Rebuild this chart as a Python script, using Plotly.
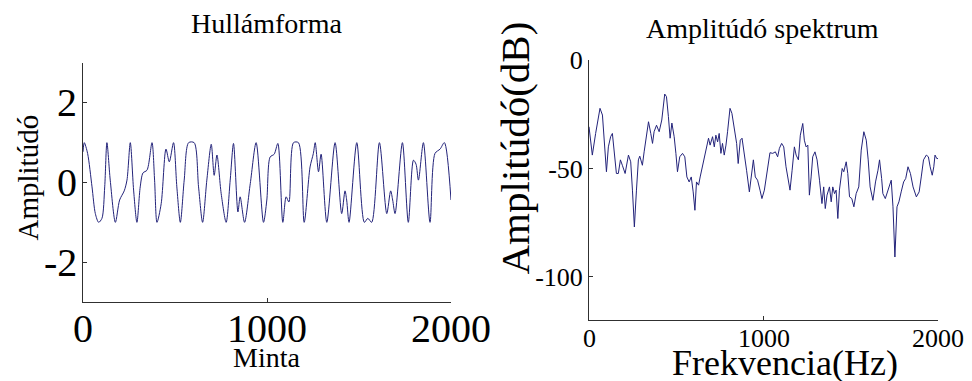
import plotly.graph_objects as go

# ---- data ----
wave_x = [0, 7, 25, 49, 67, 85, 103, 118, 130, 148, 176, 199, 224, 239, 257, 275, 293, 311, 326, 348,
          375, 389, 402, 425, 451, 469, 492, 510, 529, 550, 574, 604, 628, 650, 673, 697, 713, 728, 751, 778,
          800, 818, 842, 854, 878, 909, 941, 981, 999, 1017, 1039, 1059, 1086, 1104, 1119, 1144, 1171, 1202,
          1234, 1252, 1262, 1280, 1294, 1325, 1370, 1406, 1424, 1433, 1446, 1488, 1529, 1548, 1569, 1611,
          1651, 1672, 1683, 1696, 1736, 1768, 1796, 1810, 1823, 1850, 1886, 1913, 1941, 1964, 2000]
wave_y = [0.77, 1.0, 0.73, -0.11, -0.78, -1.0, -0.9, -0.11, 1.0, 0.06, -1.0, -0.44, -0.21, 0.06, 1.0, -0.19,
          -1.0, -0.11, 0.24, 0.31, 1.0, 0.06, -1.0, -0.53, 0.84, 0.52, 1.0, -0.11, -1.0, 0.06, 1.0, 1.0, -0.11,
          -1.0, 0.06, 0.96, 0.18, 0.69, -0.28, -1.0, 0.06, 0.98, -0.74, -0.36, -1.0, -0.03, 1.0, -1.0, -0.44,
          0.64, 0.71, 0.98, -1.0, -0.36, -0.49, 1.0, 1.0, -1.0, 0.39, 0.73, 1.0, 0.27, 0.71, -1.0, 1.0, -0.78,
          -0.21, -0.44, -1.0, 1.0, -1.0, -0.9, -1.0, 1.0, -0.78, -0.21, -0.44, -0.78, 1.0, -1.0, 0.56, 0.46,
          0.06, 1.0, -1.0, 0.73, 0.84, 1.0, -0.44]

spec_x = [0, 19, 38, 63, 77, 92, 100, 111, 124, 134, 145, 157, 168, 180, 191, 207, 226, 239, 249, 260,
          272, 283, 291, 306, 316, 329, 341, 354, 364, 373, 387, 402, 417, 434, 444, 455, 465, 475, 488, 498,
          507, 520, 536, 549, 561, 574, 586, 597, 607, 616, 628, 637, 660, 685, 694, 708, 718, 727, 737, 746,
          756, 765, 775, 785, 794, 808, 819, 833, 846, 855, 867, 877, 890, 903, 919, 932, 942, 953, 966, 980,
          991, 1005, 1024, 1037, 1053, 1068, 1081, 1091, 1104, 1116, 1129, 1141, 1152, 1164, 1177, 1187, 1200,
          1211, 1225, 1234, 1244, 1254, 1263, 1273, 1282, 1295, 1307, 1321, 1335, 1345, 1354, 1364, 1378, 1388,
          1397, 1407, 1416, 1426, 1435, 1451, 1460, 1474, 1483, 1493, 1506, 1518, 1531, 1546, 1560, 1575, 1589,
          1600, 1611, 1627, 1642, 1656, 1665, 1677, 1684, 1698, 1713, 1722, 1732, 1742, 1753, 1765, 1776, 1789,
          1803, 1815, 1828, 1842, 1857, 1876, 1892, 1904, 1917, 1933, 1945, 1955, 1967, 1976, 1983, 1993, 2000]
spec_y = [-30.7, -43.8, -33.8, -22.2, -25.3, -40, -51.5, -40, -35.3, -33.8, -43.8, -52.3, -52.3, -46, -48.5,
          -52.3, -43.8, -46.9, -60, -77, -60, -46, -44.3, -48.5, -42.3, -33.8, -28.4, -33.8, -38.4, -33, -30,
          -33, -27.6, -15.6, -16.8, -26, -36, -29, -35.3, -43, -51.5, -44.6, -43, -44.6, -53.9, -56.2, -53.9,
          -60.8, -69.3, -56.2, -57.7, -53.9, -46, -36, -39.2, -35.3, -40, -34.6, -37.7, -33.8, -43, -38.4,
          -43.8, -39.2, -33, -22.2, -24.5, -32.3, -38.4, -47.7, -36.9, -36, -44.6, -50.8, -60.8, -52.3, -46,
          -53.9, -55.4, -60, -63.9, -60, -50.8, -42.7, -43, -42.3, -44.6, -40.7, -38.4, -40, -49.2, -55.4, -60,
          -50.8, -40, -43.8, -46, -34.6, -29.2, -36.9, -40, -39.2, -62.3, -53.9, -44.6, -42.3, -46, -55.4,
          -66.2, -58.5, -68.5, -62.3, -58.5, -65.4, -58.5, -61.6, -60, -73.1, -60, -50, -51.5, -46.9, -52.3,
          -63.1, -63.9, -67.7, -61.6, -58.5, -41.5, -33, -36.9, -46, -58.5, -64.7, -56.2, -50.8, -46, -54.6,
          -61.6, -63.9, -60, -57.7, -55.4, -67.7, -90.9, -67.7, -65.4, -60.8, -56.2, -54.6, -49.2, -52.3,
          -58.5, -63.1, -60.8, -53.9, -46, -43.8, -44.6, -49.2, -53.1, -49.2, -43.8, -45.4, -45.4]

wave_ticks_x = [0, 1000, 2000]
wave_ticks_y = [-2, 0, 2]
spec_ticks_x = [0, 1000, 2000]
spec_ticks_y = [-100, -50, 0]

FONT = "Liberation Serif, Times New Roman, serif"
LINE = "#23237a"
AX = "#303030"

fig = go.Figure()
fig.add_trace(go.Scatter(x=wave_x, y=wave_y, mode="lines", line=dict(color=LINE, width=1, shape="spline", smoothing=0.8),
                         xaxis="x", yaxis="y", showlegend=False, hoverinfo="skip"))
fig.add_trace(go.Scatter(x=spec_x, y=spec_y, mode="lines", line=dict(color=LINE, width=1),
                         xaxis="x2", yaxis="y2", showlegend=False, hoverinfo="skip"))

common = dict(showline=True, linecolor=AX, linewidth=1, ticks="inside", ticklen=4, tickcolor=AX,
              showgrid=False, zeroline=False, mirror=False, automargin=False)

fig.update_layout(
    width=972, height=381, margin=dict(l=0, r=0, t=0, b=0, autoexpand=False),
    paper_bgcolor="white", plot_bgcolor="white",
    font=dict(family=FONT, color="black"),
    xaxis=dict(domain=[83/972, 451/972], range=[0, 2000], tickvals=wave_ticks_x,
               showticklabels=False, anchor="y", **common),
    yaxis=dict(domain=[79/381, 318/381], range=[-3, 3], tickvals=wave_ticks_y,
               showticklabels=False, anchor="x", **common),
    xaxis2=dict(domain=[589/972, 938/972], range=[0, 2000], tickvals=spec_ticks_x,
                showticklabels=False, anchor="y2", **common),
    yaxis2=dict(domain=[61/381, 320.7/381], range=[-120, 0], tickvals=spec_ticks_y,
                ticktext=[str(v) for v in spec_ticks_y], tickfont=dict(size=26, family=FONT), anchor="x2", **common),
)

def label(text, x, y, xref, yref, size, xanchor="center", yanchor="middle", angle=0):
    fig.add_annotation(text=text, x=x, y=y, xref=xref, yref=yref, xanchor=xanchor, yanchor=yanchor,
                       showarrow=False, textangle=angle, font=dict(size=size, family=FONT, color="black"))

# tick labels placed at the tick values through the axes' own scales
for v in wave_ticks_x:
    label(str(v), v, (381 - 328) / 381, "x", "paper", 40)
for v in wave_ticks_y:
    label(str(v), 79 / 972, v, "paper", "y", 40, xanchor="right")
for v in spec_ticks_x:
    label(str(v), v, (381 - 338.5) / 381, "x2", "paper", 26)

# titles and axis titles
label("Hullámforma", 266/972, (381-23)/381, "paper", "paper", 28)
label("Amplitúdó spektrum", 762/972, (381-28)/381, "paper", "paper", 28)
label("Minta", 266/972, (381-357)/381, "paper", "paper", 28)
label("Frekvencia(Hz)", 785/972, (381-362.5)/381, "paper", "paper", 36)
label("Amplitúdó", 27.5/972, (381-178)/381, "paper", "paper", 29, angle=-90)
label("Amplitúdó(dB)", 514/972, (381-148.5)/381, "paper", "paper", 41, angle=-90)

fig.write_html("out.html")
